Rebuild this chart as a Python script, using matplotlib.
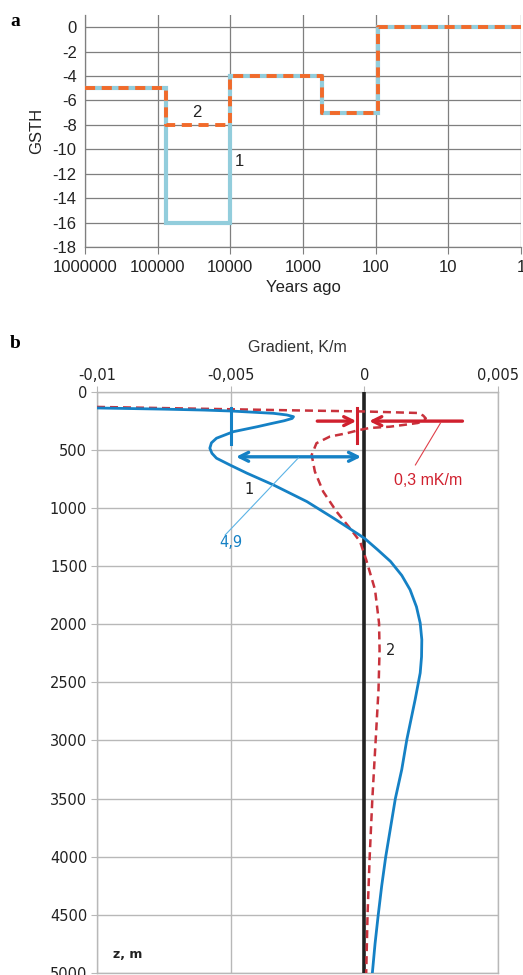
import numpy as np
import matplotlib
matplotlib.use("Agg")
import matplotlib.pyplot as plt
from matplotlib.ticker import FixedLocator, FuncFormatter

plt.rcParams["axes.unicode_minus"] = False

# ---------------- data: panel a (GSTH step histories) ----------------
years_edges = [1000000, 78000, 10000, 550, 92, 1]
gsth_1 = [-5, -16, -4, -7, 0]
gsth_2 = [-5, -8, -4, -7, 0]
a_xticks = [1000000, 100000, 10000, 1000, 100, 10, 1]
a_yticks = [0, -2, -4, -6, -8, -10, -12, -14, -16, -18]

# ---------------- data: panel b (gradient anomaly vs depth) ----------------
z_1 = [140, 150, 158, 166, 186, 200, 215, 230, 250, 275, 301, 344, 400, 440, 486,
       530, 572, 630, 700, 802, 945, 1088, 1170, 1260, 1360, 1460, 1580, 1703,
       1850, 1990, 2133, 2280, 2419, 2649, 2992, 3250, 3500, 3750, 4000, 4250,
       4500, 4750, 5000]
grad_1 = [-0.0100, -0.0075, -0.0060, -0.0050, -0.0034, -0.0029, -0.00265, -0.0027,
          -0.0030, -0.0035, -0.0040, -0.0049, -0.00553, -0.00572, -0.00578, -0.0057,
          -0.00553, -0.00503, -0.0044, -0.0034, -0.00215, -0.00115, -0.0006, 0.0,
          0.0005, 0.00098, 0.0014, 0.00171, 0.00195, 0.00209, 0.00215, 0.00214,
          0.00209, 0.0019, 0.00159, 0.0014, 0.00116, 0.00098, 0.0008, 0.00065,
          0.00052, 0.0004, 0.0003]
z_2 = [131, 141, 151, 161, 170, 183, 205, 230, 250, 269, 285, 301, 312, 330, 357,
       386, 443, 544, 687, 859, 1031, 1174, 1289, 1446, 1703, 1990, 2220, 2563,
       2933, 3500, 4000, 4500, 5000]
grad_2 = [-0.0100, -0.0075, -0.0050, -0.0025, 0.0, 0.0020, 0.0022, 0.0023, 0.0022,
          0.0020, 0.0015, 0.00096, 0.0002, -0.0002, -0.00065, -0.00129, -0.00179,
          -0.00197, -0.00185, -0.00154, -0.00104, -0.00054, -0.00016, 0.00007,
          0.0004, 0.00055, 0.00057, 0.00053, 0.00044, 0.0003, 0.0002, 0.00012,
          0.00007]
b_xticks = [-0.01, -0.005, 0, 0.005]
b_xticklabels = ["-0,01", "-0,005", "0", "0,005"]
b_yticks = list(range(0, 5001, 500))

# ---------------- figure ----------------
W, H = 523, 975
fig = plt.figure(figsize=(W / 100, H / 100), dpi=100)

def fx(px):
    return px / W

def fy(py):
    return 1 - py / H

# ---------------- panel a ----------------
axa = fig.add_axes([fx(85), fy(247), fx(521) - fx(85), fy(15) - fy(247)])
axa.set_xscale("log")
axa.set_xlim(1000000, 1)
axa.set_ylim(-18, 1)

def steps(edges, vals):
    xs, ys = [], []
    for i, v in enumerate(vals):
        xs += [edges[i], edges[i + 1]]
        ys += [v, v]
    return xs, ys

x1, y1 = steps(years_edges, gsth_1)
x2, y2 = steps(years_edges, gsth_2)
axa.plot(x1, y1, color="#92CDDC", lw=3.0, solid_joinstyle="miter", zorder=3)
axa.plot(x2, y2, color="#F26A2A", lw=2.8, dashes=(2.6, 1.7), zorder=4)

axa.xaxis.set_major_locator(FixedLocator(a_xticks))
axa.xaxis.set_minor_locator(FixedLocator([]))
axa.xaxis.set_major_formatter(FuncFormatter(lambda v, p: str(int(round(v)))))
axa.set_yticks(a_yticks)
axa.grid(True, which="major", color="#7f7f7f", lw=0.9)
axa.set_axisbelow(True)
for s in ["top", "right"]:
    axa.spines[s].set_visible(False)
for s in ["left", "bottom"]:
    axa.spines[s].set_color("#7f7f7f")
    axa.spines[s].set_linewidth(0.9)
axa.tick_params(axis="x", length=5, color="#7f7f7f", labelsize=12, pad=4,
                labelcolor="#222222")
axa.tick_params(axis="y", length=0, labelsize=12, pad=6, labelcolor="#222222")
for lab in axa.get_xticklabels() + axa.get_yticklabels():
    lab.set_fontfamily("Liberation Sans")
axa.set_xlabel("Years ago", fontsize=12, family="Liberation Sans", color="#222222",
               labelpad=4)
axa.set_ylabel("GSTH", fontsize=12, family="Liberation Sans", color="#222222",
               labelpad=6)
axa.text(29000, -7.0, "2", fontsize=12, family="Liberation Sans", color="#222222",
         ha="center", va="center")
axa.text(7600, -11.0, "1", fontsize=12, family="Liberation Sans", color="#222222",
         ha="center", va="center")
fig.text(fx(15), fy(22), "a", fontsize=14, family="Liberation Serif",
         weight="bold", ha="center", va="center")

# ---------------- panel b ----------------
axb = fig.add_axes([fx(97), fy(973), fx(498) - fx(97), fy(391.7) - fy(973)])
axb.set_xlim(-0.01, 0.005)
axb.set_ylim(5000, 0)
axb.xaxis.tick_top()
axb.xaxis.set_label_position("top")
axb.set_xticks(b_xticks)
axb.set_xticklabels(b_xticklabels)
axb.set_yticks(b_yticks)
axb.grid(True, color="#b8b8b8", lw=1.0)
axb.set_axisbelow(True)
for s in axb.spines.values():
    s.set_color("#b8b8b8")
    s.set_linewidth(1.0)
axb.tick_params(axis="both", length=4, color="#b8b8b8", labelsize=10.5,
                labelcolor="#222222")
axb.tick_params(axis="x", pad=2)
axb.tick_params(axis="y", pad=3)
for lab in axb.get_xticklabels() + axb.get_yticklabels():
    lab.set_fontfamily("DejaVu Sans")
axb.set_xlabel("Gradient, K/m", fontsize=11.5, family="Liberation Sans",
               color="#333333", labelpad=12)

axb.axvline(0, color="#222222", lw=2.6, zorder=3)
axb.plot(grad_2, z_2, color="#C8323C", lw=1.8, dashes=(3.2, 2.0), zorder=4)
axb.plot(grad_1, z_1, color="#1581C5", lw=2.0, zorder=5)

# blue markers / arrows
axb.plot([-0.005, -0.005], [140, 452], color="#1581C5", lw=2.2, zorder=6)
axb.annotate("", xy=(-0.00480, 560), xytext=(-0.00012, 560),
             arrowprops=dict(arrowstyle="<->", color="#1581C5", lw=2.4,
                             mutation_scale=16, shrinkA=0, shrinkB=0), zorder=6)
axb.plot([-0.00247, -0.0052], [570, 1231], color="#5BB3E6", lw=0.8, zorder=6)
axb.text(-0.0050, 1300, "4,9", color="#1581C5", fontsize=10.5,
         family="DejaVu Sans", ha="center", va="center")

# red markers / arrows
axb.plot([-0.00026, -0.00026], [140, 440], color="#D0202E", lw=2.2, zorder=6)
axb.annotate("", xy=(-0.00030, 253), xytext=(-0.00176, 253),
             arrowprops=dict(arrowstyle="->", color="#D0202E", lw=2.4,
                             mutation_scale=16, shrinkA=0, shrinkB=0), zorder=6)
axb.annotate("", xy=(0.00018, 253), xytext=(0.00367, 253),
             arrowprops=dict(arrowstyle="->", color="#D0202E", lw=2.4,
                             mutation_scale=16, shrinkA=0, shrinkB=0), zorder=6)
axb.plot([0.00285, 0.00191], [269, 630], color="#E0404A", lw=0.8, zorder=6)
axb.text(0.0024, 760, "0,3 mK/m", color="#D0202E", fontsize=11.5,
         family="Liberation Sans", ha="center", va="center")

axb.text(-0.0043, 845, "1", color="#222222", fontsize=10.5, family="DejaVu Sans",
         ha="center", va="center")
axb.text(0.00097, 2230, "2", color="#222222", fontsize=10.5, family="DejaVu Sans",
         ha="center", va="center")
axb.text(-0.00884, 4840, "z, m", color="#222222", fontsize=9, family="DejaVu Sans",
         weight="semibold", ha="center", va="center")
fig.text(fx(15), fy(343), "b", fontsize=14, family="Liberation Serif",
         weight="bold", ha="center", va="center")

fig.savefig("out.png", dpi=100)
